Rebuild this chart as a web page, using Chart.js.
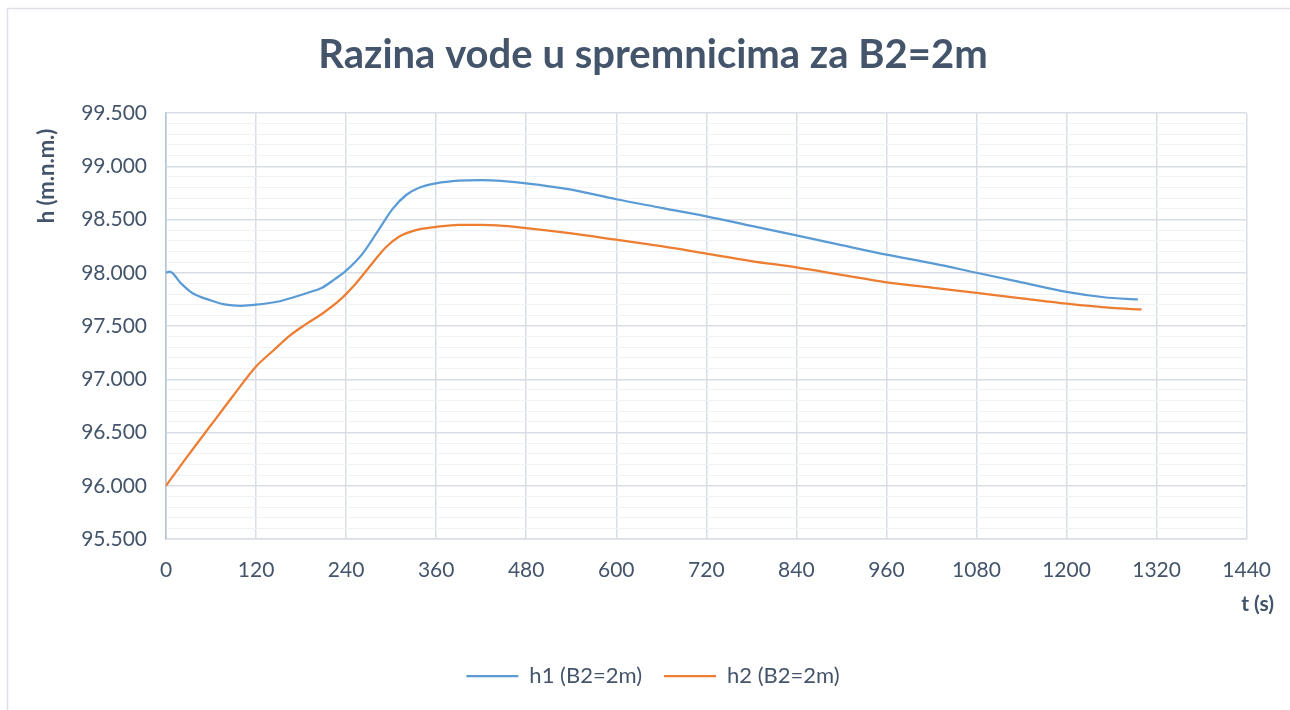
<!DOCTYPE html>
<html>
<head>
<meta charset="utf-8">
<script src="https://cdn.jsdelivr.net/npm/chart.js@4.4.1/dist/chart.umd.min.js"></script>
<style>
  html, body { margin: 0; padding: 0; background: #ffffff; }
  #wrap { position: relative; width: 1290px; height: 710px; }
</style>
</head>
<body>
<div id="wrap"><canvas id="c" width="1290" height="710"></canvas></div>
<script>
// ---- data ----
const chartTitle = 'Razina vode u spremnicima za B2=2m';
const xAxisTitle = 't (s)';
const yAxisTitle = 'h (m.n.m.)';
const seriesNames = ['h1 (B2=2m)', 'h2 (B2=2m)'];
const t1Values = [0, 5, 20, 35, 60, 80, 100, 120, 150, 170, 190, 208, 225, 240, 262, 284, 302, 320, 338, 360, 390, 420, 450, 480, 540, 600, 660, 720, 780, 840, 900, 960, 1020, 1080, 1140, 1200, 1250, 1295];
const h1Values = [98.00, 98.01, 97.90, 97.81, 97.74, 97.70, 97.69, 97.70, 97.73, 97.77, 97.815, 97.86, 97.94, 98.02, 98.18, 98.41, 98.60, 98.73, 98.80, 98.84, 98.865, 98.87, 98.86, 98.84, 98.78, 98.69, 98.61, 98.53, 98.44, 98.35, 98.26, 98.17, 98.09, 98.00, 97.91, 97.82, 97.77, 97.75];
const t2Values = [0, 30, 60, 90, 120, 143, 165, 187, 209, 231, 253, 275, 293, 311, 333, 360, 390, 420, 450, 480, 540, 600, 660, 720, 780, 840, 900, 960, 1020, 1080, 1140, 1200, 1260, 1300];
const h2Values = [96.00, 96.29, 96.57, 96.85, 97.12, 97.27, 97.41, 97.52, 97.62, 97.74, 97.90, 98.09, 98.24, 98.34, 98.40, 98.43, 98.45, 98.45, 98.44, 98.42, 98.37, 98.31, 98.25, 98.18, 98.11, 98.05, 97.98, 97.91, 97.86, 97.81, 97.76, 97.71, 97.67, 97.655];
const xTickValues = [0, 120, 240, 360, 480, 600, 720, 840, 960, 1080, 1200, 1320, 1440];
const yTickLabels = ['95.500', '96.000', '96.500', '97.000', '97.500', '98.000', '98.500', '99.000', '99.500'];

const FONT = 'Lato, "Open Sans", sans-serif';
const TEXT = '#44546A';

const toPoints = (xs, ys) => xs.map((x, i) => ({ x: x, y: ys[i] }));

const decorPlugin = {
  id: 'decor',
  beforeDraw(chart) {
    const ctx = chart.ctx;
    ctx.save();
    ctx.strokeStyle = '#dde1e7';
    ctx.lineWidth = 1.5;
    ctx.strokeRect(7.5, 8.5, 1400, 800);
    ctx.restore();
  },
  afterDraw(chart) {
    const ctx = chart.ctx;
    ctx.save();
    ctx.fillStyle = TEXT;
    ctx.font = 'bold 21px ' + FONT;
    ctx.textAlign = 'right';
    ctx.textBaseline = 'middle';
    ctx.fillText(xAxisTitle, 1274, 604);
    ctx.font = 'bold 22px ' + FONT;
    ctx.translate(47, 176);
    ctx.rotate(-Math.PI / 2);
    ctx.textAlign = 'center';
    ctx.fillText(yAxisTitle, 0, 0);
    ctx.restore();
  }
};

const isMajor = v => Math.abs(v * 2 - Math.round(v * 2)) < 1e-6;

new Chart(document.getElementById('c'), {
  type: 'scatter',
  data: {
    datasets: [
      {
        label: seriesNames[0],
        data: toPoints(t1Values, h1Values),
        showLine: true,
        borderColor: '#5B9BD5',
        backgroundColor: '#5B9BD5',
        borderWidth: 2.25,
        pointRadius: 0,
        cubicInterpolationMode: 'monotone'
      },
      {
        label: seriesNames[1],
        data: toPoints(t2Values, h2Values),
        showLine: true,
        borderColor: '#ED7D31',
        backgroundColor: '#ED7D31',
        borderWidth: 2.25,
        pointRadius: 0,
        cubicInterpolationMode: 'monotone'
      }
    ]
  },
  options: {
    responsive: false,
    animation: false,
    devicePixelRatio: 1,
    layout: { padding: { top: 22, left: 58, right: 42, bottom: 13 } },
    plugins: {
      title: {
        display: true,
        text: chartTitle,
        color: TEXT,
        font: { family: FONT, size: 40, weight: 'bold' },
        padding: { top: 9, bottom: 34 }
      },
      legend: {
        position: 'bottom',
        labels: {
          usePointStyle: true,
          pointStyle: 'line',
          pointStyleWidth: 52,
          boxHeight: 2,
          color: TEXT,
          font: { family: FONT, size: 22 },
          padding: 22
        }
      },
      tooltip: { enabled: false }
    },
    scales: {
      x: {
        type: 'linear',
        min: 0,
        max: 1440,
        afterBuildTicks: s => { s.ticks = xTickValues.map(v => ({ value: v })); },
        afterFit: s => { s.height = 104; },
        ticks: {
          color: TEXT,
          font: { family: FONT, size: 21 },
          padding: 19,
          maxRotation: 0,
          callback: v => String(v)
        },
        grid: { color: '#d9dee6', lineWidth: 1.5, drawTicks: false },
        border: { color: '#d9dee6', width: 1.5 }
      },
      y: {
        type: 'linear',
        min: 95.5,
        max: 99.5,
        afterFit: s => { s.width = 108; },
        ticks: {
          stepSize: 0.1,
          color: TEXT,
          font: { family: FONT, size: 21 },
          padding: 19,
          autoSkip: false,
          callback: v => isMajor(v) ? yTickLabels[Math.round((v - 95.5) * 2)] : ''
        },
        grid: {
          drawTicks: false,
          color: c => (c.tick && isMajor(c.tick.value)) ? '#d9dee6' : '#f0f2f5',
          lineWidth: c => (c.tick && isMajor(c.tick.value)) ? 1.5 : 1
        },
        border: { color: '#b4c2d8', width: 1.5 }
      }
    }
  },
  plugins: [decorPlugin]
});
</script>
</body>
</html>
